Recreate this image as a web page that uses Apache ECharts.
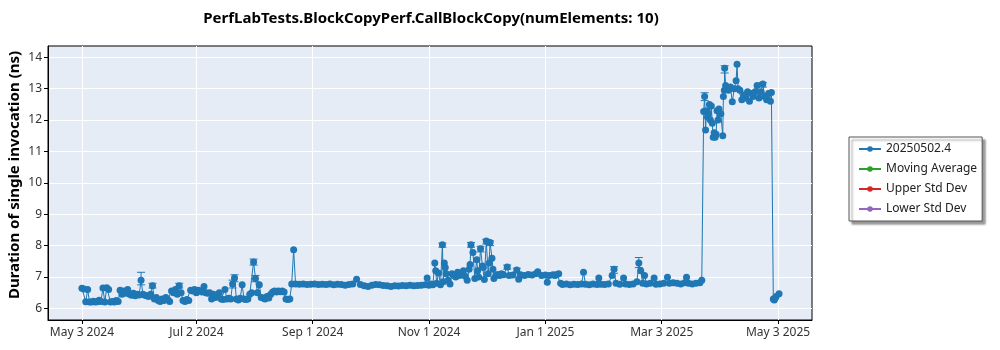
<!DOCTYPE html>
<html><head><meta charset="utf-8">
<script src="https://cdn.jsdelivr.net/npm/echarts@6/dist/echarts.min.js"></script>
<style>html,body{margin:0;padding:0;background:#fff}#c{width:1000px;height:350px}</style>
</head><body><div id="c"></div>
<script>
const chartTitle = 'PerfLabTests.BlockCopyPerf.CallBlockCopy(numElements: 10)';
const yAxisTitle = 'Duration of single invocation (ns)';
const seriesNames = ['20250502.4', 'Moving Average', 'Upper Std Dev', 'Lower Std Dev'];
const seriesColors = ['#1f77b4', '#2ca02c', '#d62728', '#9467bd'];
const xTickDates = ['2024-05-03', '2024-07-02', '2024-09-01', '2024-11-01', '2025-01-01', '2025-03-03', '2025-05-03'];
const xTickLabels = ['May 3 2024', 'Jul 2 2024', 'Sep 1 2024', 'Nov 1 2024', 'Jan 1 2025', 'Mar 3 2025', 'May 3 2025'];
const yTicks = [6, 7, 8, 9, 10, 11, 12, 13, 14];
const xRange = ['2024-04-15 05:00', '2025-05-20 19:00'];
const yRange = [5.63, 14.36];

const segA = [['2024-05-03',6.64],['2024-05-04',6.62],['2024-05-05',6.21],['2024-05-06',6.6],['2024-05-07',6.2],['2024-05-08',6.2],['2024-05-09',6.23],['2024-05-10',6.2],['2024-05-11',6.21],['2024-05-12',6.26],['2024-05-13',6.22],['2024-05-14',6.65],['2024-05-15',6.2],['2024-05-16',6.66],['2024-05-17',6.6],['2024-05-18',6.2],['2024-05-19',6.22],['2024-05-20',6.2],['2024-05-21',6.25],['2024-05-22',6.22],['2024-05-23',6.58],['2024-05-24',6.45],['2024-05-25',6.55],['2024-05-26',6.48],['2024-05-27',6.6],['2024-05-28',6.45],['2024-05-29',6.42],['2024-05-30',6.48],['2024-05-31',6.4],['2024-06-01',6.45],['2024-06-02',6.43],['2024-06-03',6.9],['2024-06-04',6.45],['2024-06-05',6.42],['2024-06-06',6.4],['2024-06-07',6.38],['2024-06-08',6.45],['2024-06-09',6.72],['2024-06-10',6.3],['2024-06-11',6.35],['2024-06-12',6.25],['2024-06-13',6.22],['2024-06-14',6.3],['2024-06-15',6.25],['2024-06-16',6.35],['2024-06-17',6.28],['2024-06-18',6.22],['2024-06-19',6.55],['2024-06-20',6.5],['2024-06-21',6.6],['2024-06-22',6.45],['2024-06-23',6.72],['2024-06-24',6.5],['2024-06-25',6.25],['2024-06-26',6.22],['2024-06-27',6.28],['2024-06-28',6.25],['2024-06-29',6.58],['2024-06-30',6.55],['2024-07-01',6.6],['2024-07-02',6.5],['2024-07-03',6.58],['2024-07-04',6.55],['2024-07-05',6.52],['2024-07-06',6.7],['2024-07-07',6.5],['2024-07-08',6.48],['2024-07-09',6.5],['2024-07-10',6.3],['2024-07-11',6.45],['2024-07-12',6.35],['2024-07-13',6.4],['2024-07-14',6.5],['2024-07-15',6.3],['2024-07-16',6.28],['2024-07-17',6.6],['2024-07-18',6.3],['2024-07-19',6.32],['2024-07-20',6.3],['2024-07-21',6.78],['2024-07-22',6.97],['2024-07-23',6.3],['2024-07-24',6.27],['2024-07-25',6.32],['2024-07-26',6.75],['2024-07-27',6.3],['2024-07-28',6.28],['2024-07-29',6.3],['2024-07-30',6.45],['2024-07-31',6.5],['2024-08-01',7.48],['2024-08-02',6.95],['2024-08-03',6.5],['2024-08-04',6.75],['2024-08-05',6.35],['2024-08-06',6.33],['2024-08-07',6.3],['2024-08-08',6.38],['2024-08-09',6.33],['2024-08-10',6.45],['2024-08-11',6.52],['2024-08-12',6.55],['2024-08-13',6.52],['2024-08-14',6.55],['2024-08-15',6.53],['2024-08-16',6.55],['2024-08-17',6.52],['2024-08-18',6.3],['2024-08-19',6.28],['2024-08-20',6.3],['2024-08-21',6.78],['2024-08-22',7.87],['2024-08-23',6.78]];

const segB = [['2024-08-25',6.77],['2024-08-27',6.78],['2024-08-29',6.76],['2024-08-31',6.77],['2024-09-02',6.78],['2024-09-04',6.76],['2024-09-06',6.77],['2024-09-08',6.76],['2024-09-10',6.78],['2024-09-12',6.75],['2024-09-14',6.77],['2024-09-16',6.76],['2024-09-18',6.74],['2024-09-20',6.76],['2024-09-22',6.78],['2024-09-24',6.93],['2024-09-26',6.76],['2024-09-28',6.72],['2024-09-30',6.7],['2024-10-02',6.74],['2024-10-04',6.76],['2024-10-06',6.75],['2024-10-08',6.73],['2024-10-10',6.72],['2024-10-12',6.7],['2024-10-14',6.72],['2024-10-16',6.71],['2024-10-18',6.73],['2024-10-20',6.72],['2024-10-22',6.74],['2024-10-24',6.72],['2024-10-26',6.73],['2024-10-28',6.74],['2024-10-30',6.75],['2024-10-31',6.97]];

const segC = [['2024-11-01',6.74],['2024-11-02',6.78],['2024-11-03',6.75],['2024-11-04',7.45],['2024-11-04 12:00',7.2],['2024-11-05',6.8],['2024-11-06',7.13],['2024-11-07',6.75],['2024-11-08',8.03],['2024-11-08 12:00',6.85],['2024-11-09',7.45],['2024-11-09 12:00',7.3],['2024-11-10',7.1],['2024-11-11',6.9],['2024-11-12',6.78],['2024-11-13',7.1],['2024-11-14',7.05],['2024-11-15',7.0],['2024-11-16',7.15],['2024-11-17',7.05],['2024-11-18',7.1],['2024-11-19',7.2],['2024-11-20',7.02],['2024-11-21',6.9],['2024-11-22',7.25],['2024-11-22 12:00',7.4],['2024-11-23',8.03],['2024-11-24',7.78],['2024-11-25',6.95],['2024-11-26',7.55],['2024-11-26 12:00',7.2],['2024-11-27',7.0],['2024-11-28',7.9],['2024-11-29',7.35],['2024-11-29 12:00',7.3],['2024-11-30',6.92],['2024-12-01',8.15],['2024-12-02',7.1],['2024-12-02 12:00',7.45],['2024-12-03',8.1],['2024-12-04',7.6],['2024-12-04 12:00',7.25],['2024-12-05',6.95],['2024-12-06',7.05],['2024-12-07',7.08],['2024-12-08',7.05],['2024-12-09',7.1],['2024-12-10',7.07],['2024-12-12',7.32],['2024-12-13',7.05],['2024-12-15',7.06],['2024-12-17',7.22],['2024-12-18',6.93],['2024-12-19',7.07],['2024-12-21',7.05],['2024-12-23',7.08],['2024-12-25',7.06],['2024-12-27',7.1],['2024-12-28',7.17],['2024-12-30',7.05],['2025-01-01',7.06],['2025-01-02',6.83],['2025-01-03',7.05],['2025-01-05',7.07],['2025-01-06',7.05],['2025-01-07',7.08],['2025-01-08',7.1]];

const segD = [['2025-01-09',6.8],['2025-01-10',6.76],['2025-01-12',6.78],['2025-01-14',6.75],['2025-01-16',6.77],['2025-01-18',6.76],['2025-01-20',6.78],['2025-01-21',7.15],['2025-01-22',6.77],['2025-01-24',6.75],['2025-01-26',6.78],['2025-01-28',6.76],['2025-01-29',6.97],['2025-01-30',6.77],['2025-02-01',6.76],['2025-02-03',6.78],['2025-02-05',7.05],['2025-02-06',7.25],['2025-02-07',6.8],['2025-02-09',6.77],['2025-02-11',6.97],['2025-02-12',6.78],['2025-02-14',6.76],['2025-02-16',6.78],['2025-02-18',6.85],['2025-02-19',7.45],['2025-02-20',7.2],['2025-02-21',6.8],['2025-02-22',7.05],['2025-02-23',6.78],['2025-02-25',6.8],['2025-02-27',6.97],['2025-02-28',6.77],['2025-03-02',6.78],['2025-03-04',6.8],['2025-03-06',6.99],['2025-03-07',6.8],['2025-03-09',6.82],['2025-03-11',6.8],['2025-03-13',6.78],['2025-03-15',6.82],['2025-03-16',6.99],['2025-03-17',6.8],['2025-03-19',6.78],['2025-03-21',6.8],['2025-03-23',6.82],['2025-03-24',6.9]];

const segE = [['2025-03-25',12.27],['2025-03-25 12:00',12.75],['2025-03-26',11.68],['2025-03-26 12:00',12.3],['2025-03-27',12.1],['2025-03-27 12:00',12.2],['2025-03-28',12.5],['2025-03-28 12:00',12.0],['2025-03-29',12.45],['2025-03-29 12:00',11.9],['2025-03-30',11.45],['2025-03-30 12:00',11.6],['2025-03-31',11.45],['2025-03-31 12:00',11.55],['2025-04-01',12.3],['2025-04-01 12:00',12.0],['2025-04-02',12.35],['2025-04-03',12.2],['2025-04-04',11.5],['2025-04-04 08:00',12.75],['2025-04-04 20:00',12.95],['2025-04-05',13.65],['2025-04-05 12:00',13.1],['2025-04-06',13.0],['2025-04-07',12.95],['2025-04-08',13.05],['2025-04-09',12.58],['2025-04-10',13.0],['2025-04-11',13.25],['2025-04-11 12:00',13.78],['2025-04-12',13.0],['2025-04-13',12.95],['2025-04-14',12.65],['2025-04-15',12.8],['2025-04-16',12.7],['2025-04-17',12.9],['2025-04-18',12.6],['2025-04-19',12.85],['2025-04-20',12.75],['2025-04-21',12.9],['2025-04-22',13.1],['2025-04-23',12.7],['2025-04-24',12.9],['2025-04-25',13.15],['2025-04-26',12.75],['2025-04-27',12.65],['2025-04-28',12.85],['2025-04-29',12.6],['2025-04-29 12:00',12.88],['2025-04-30 12:00',6.3],['2025-05-01',6.27],['2025-05-01 12:00',6.33],['2025-05-02',6.38],['2025-05-03 12:00',6.47]];

const errorBars = [['2024-06-03',6.75,7.15],['2024-06-09',6.65,6.8],['2024-06-23',6.65,6.8],['2024-07-21',6.65,6.9],['2024-07-22',6.85,7.07],['2024-08-01',7.38,7.57],['2024-08-02',6.85,7.05],['2024-11-08',7.95,8.08],['2024-11-23',7.95,8.1],['2024-11-28',7.8,7.98],['2024-12-01',8.05,8.2],['2024-12-03',8.0,8.15],['2024-12-12',7.25,7.38],['2024-12-17',7.15,7.28],['2025-02-06',7.12,7.33],['2025-02-19',7.3,7.62],['2025-03-25 12:00',12.62,12.87],['2025-04-05',13.5,13.73],['2025-04-25',13.05,13.2]];

const ts = s => echarts.time.parse(s).getTime();
const mainData = [].concat(segA, segB, segC, segD, segE).map(d => [ts(d[0]), d[1]]);
const xTickTs = xTickDates.map(ts);
const FONT = "'Noto Sans', 'Open Sans', sans-serif";

const chart = echarts.init(document.getElementById('c'));
chart.setOption({
  animation: false,
  graphic: [{
    type: 'text', x: 431, y: 19,
    style: { text: chartTitle, textAlign: 'center', textVerticalAlign: 'middle', fontFamily: FONT, fontWeight: 'bold', fontSize: 15, fill: '#000' }
  }, {
    type: 'text', x: 15, y: 175, rotation: Math.PI / 2,
    style: { text: yAxisTitle, textAlign: 'center', textVerticalAlign: 'middle', fontFamily: FONT, fontWeight: 'bold', fontSize: 15, fill: '#000' }
  }],
  grid: { left: 48, right: 188, top: 46, bottom: 30, show: true, backgroundColor: '#e5ecf6', borderColor: '#000', borderWidth: 1 },
  legend: {
    data: seriesNames, orient: 'vertical', left: 849, top: 137,
    padding: [6, 5, 6, 9], itemGap: 8, itemWidth: 22, itemHeight: 7,
    backgroundColor: '#fff', borderColor: '#555', borderWidth: 1,
    shadowColor: 'rgba(0,0,0,0.4)', shadowBlur: 2, shadowOffsetX: 3, shadowOffsetY: 3,
    textStyle: { fontSize: 12, color: '#222', fontFamily: FONT }
  },
  xAxis: {
    type: 'value', min: ts(xRange[0]), max: ts(xRange[1]),
    axisLine: { show: true, onZero: false, lineStyle: { color: '#000', width: 1 } },
    axisTick: { show: true, customValues: xTickTs, length: 4, lineStyle: { color: '#000' } },
    axisLabel: { customValues: xTickTs, color: '#333', fontSize: 12, fontFamily: FONT, margin: 7,
      formatter: v => { const i = xTickTs.indexOf(v); return i >= 0 ? xTickLabels[i] : ''; } },
    splitLine: { show: true, lineStyle: { color: '#fff', width: 1 } }
  },
  yAxis: {
    type: 'value', min: yRange[0], max: yRange[1],
    axisLine: { show: true, onZero: false, lineStyle: { color: '#000', width: 1 } },
    axisTick: { show: true, customValues: yTicks, length: 4, lineStyle: { color: '#000' } },
    axisLabel: { customValues: yTicks, color: '#333', fontSize: 12, fontFamily: FONT, margin: 6 },
    splitLine: { show: true, lineStyle: { color: '#fff', width: 1 } }
  },
  series: [
    { name: seriesNames[0], type: 'line', data: mainData, symbol: 'circle', symbolSize: 7, showAllSymbol: true,
      lineStyle: { width: 1, color: seriesColors[0] }, itemStyle: { color: seriesColors[0] }, z: 3 },
    { name: seriesNames[1], type: 'line', data: [], symbol: 'circle', symbolSize: 5, lineStyle: { width: 1, color: seriesColors[1] }, itemStyle: { color: seriesColors[1] } },
    { name: seriesNames[2], type: 'line', data: [], symbol: 'circle', symbolSize: 5, lineStyle: { width: 1, color: seriesColors[2] }, itemStyle: { color: seriesColors[2] } },
    { name: seriesNames[3], type: 'line', data: [], symbol: 'circle', symbolSize: 5, lineStyle: { width: 1, color: seriesColors[3] }, itemStyle: { color: seriesColors[3] } },
    { type: 'custom', name: 'errors', data: errorBars.map(e => [ts(e[0]), e[1], e[2]]), encode: { x: 0, y: [1, 2] }, z: 2,
      renderItem: (params, api) => {
        const x = api.value(0);
        const lo = api.coord([x, api.value(1)]);
        const hi = api.coord([x, api.value(2)]);
        const cap = 4;
        const style = { stroke: seriesColors[0], lineWidth: 1 };
        return { type: 'group', children: [
          { type: 'line', shape: { x1: lo[0], y1: lo[1], x2: hi[0], y2: hi[1] }, style },
          { type: 'line', shape: { x1: hi[0] - cap, y1: hi[1], x2: hi[0] + cap, y2: hi[1] }, style },
          { type: 'line', shape: { x1: lo[0] - cap, y1: lo[1], x2: lo[0] + cap, y2: lo[1] }, style }
        ] };
      }
    }
  ]
});
</script></body></html>
